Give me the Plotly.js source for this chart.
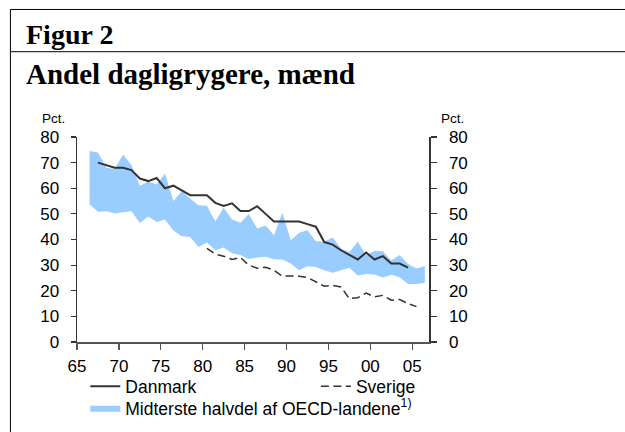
<!DOCTYPE html>
<html>
<head>
<meta charset="utf-8">
<script src="https://cdn.plot.ly/plotly-3.0.1.min.js"></script>
<style>html,body{margin:0;padding:0;background:#fff;}#chart{width:625px;height:432px;}</style>
</head>
<body>
<div id="chart"></div>
<script>
// Years for the OECD band (middle half of OECD countries)
const bandYears = [1966,1967,1968,1969,1970,1971,1972,1973,1974,1975,1976,1977,1978,1979,1980,1981,1982,1983,1984,1985,1986,1987,1988,1989,1990,1991,1992,1993,1994,1995,1996,1997,1998,1999,2000,2001,2002,2003,2004,2005,2006];
const bandUpper = [74.5,74,68,67.5,73.2,69,61,62.5,61.5,65.8,55,58.8,56,53.4,53.2,47,52.4,47.8,46.5,50,44.3,45.5,41.7,50.4,39.7,42.6,43.6,39.3,39.1,40.8,36.5,35,39.1,33.9,35.6,35.4,31.8,34,30.4,28.7,29.6];
const bandLower = [53.8,50.8,51,50.1,50.6,51,46.4,49,46.8,47.8,43.5,41.3,41,37.1,38.8,35.8,36.9,34.6,34,32.4,33,33.3,32.3,32.2,30.6,28,29.6,29.3,28,27,28,29,26,26.5,26.3,25.2,26.2,25.3,22.6,22.6,23.1];

// Danmark
const dkYears = [1967,1968,1969,1970,1971,1972,1973,1974,1975,1976,1977,1978,1979,1980,1981,1982,1983,1984,1985,1986,1987,1988,1989,1990,1991,1992,1993,1994,1995,1996,1997,1998,1999,2000,2001,2002,2003,2004];
const dkValues = [70,69,68,68,67.1,63.8,62.8,64,60,61,59.3,57.3,57.3,57.3,54.3,53.1,54.1,51.1,51.1,53,50,47,47,47,47,46,45,39,38,35.8,33.9,32.2,34.9,32.2,33.5,30.6,30.6,29];

// Sverige
const seYears = [1980,1981,1982,1983,1984,1985,1986,1987,1988,1989,1990,1991,1992,1993,1994,1995,1996,1997,1998,1999,2000,2001,2002,2003,2004,2005];
const seValues = [36.5,34.3,33.5,32.2,33,30,28.8,29.2,28,25.7,25.8,25.7,25.2,23.4,21.8,22.1,21.5,16.9,17.3,19.1,17.6,18.2,16.3,16.6,15,13.8];

// Tick labels
const xTickVals = [1965,1970,1975,1980,1985,1990,1995,2000,2005];
const xTickText = ["65","70","75","80","85","90","95","00","05"];
const yTickVals = [0,10,20,30,40,50,60,70,80];

const mid = y => y + 0.5; // annual values plotted mid-year

const fontSans = "Liberation Sans, Arial, sans-serif";
const fontSerif = "Liberation Serif, Times New Roman, serif";
const ink = "#333333";
const blue = "#99ccff";

const traces = [
  {x: bandYears.map(mid), y: bandLower, type: "scatter", mode: "lines",
   line: {width: 0, color: blue}, showlegend: false, hoverinfo: "skip"},
  {x: bandYears.map(mid), y: bandUpper, type: "scatter", mode: "lines",
   fill: "tonexty", fillcolor: blue, line: {width: 0, color: blue},
   name: "Midterste halvdel af OECD-landene<sup>1)</sup>", legend: "legend3"},
  {x: dkYears.map(mid), y: dkValues, type: "scatter", mode: "lines",
   line: {width: 2, color: ink}, name: "Danmark", legend: "legend"},
  {x: seYears.map(mid), y: seValues, type: "scatter", mode: "lines", yaxis: "y2",
   line: {width: 1.5, color: ink, dash: "8px,4.5px"}, name: "Sverige", legend: "legend2"}
];

const W = 352.6, H = 204.8, L = 76.7, B = 341.7;
const px = v => (v - L) / W;
const py = v => (B - v) / H;

const legFont = {family: fontSans, size: 17.5, color: "#000"};
const tickFont = {family: fontSans, size: 17, color: "#000"};

const layout = {
  width: 625, height: 432,
  margin: {l: 76.7, r: 195.7, t: 136.9, b: 90.3, autoexpand: false},
  paper_bgcolor: "#fff", plot_bgcolor: "#fff",
  font: {family: fontSans, size: 17, color: "#000"},
  showlegend: true,
  xaxis: {range: [1965, 2007], tickvals: xTickVals, ticktext: xTickText,
    showgrid: false, zeroline: false, showline: true, linecolor: "#555", linewidth: 1.5,
    ticks: "outside", ticklen: 6, tickcolor: "#555", tickwidth: 1.2, ticklabelstandoff: 2,
    tickfont: tickFont},
  yaxis: {range: [0, 80], tickvals: yTickVals, showgrid: false, zeroline: false,
    showline: true, linecolor: "#333", linewidth: 1.5,
    ticks: "outside", ticklen: 5, tickcolor: "#333", tickwidth: 1.2, ticklabelstandoff: 8,
    tickfont: tickFont},
  yaxis2: {range: [0, 80], tickvals: yTickVals, overlaying: "y", side: "right", anchor: "x",
    showgrid: false, zeroline: false, showline: true, linecolor: "#333", linewidth: 1.5,
    ticks: "outside", ticklen: 6, tickcolor: "#333", tickwidth: 1.2, ticklabelstandoff: 9,
    tickfont: tickFont},
  legend: {orientation: "h", x: px(85), xanchor: "left", y: py(386), yanchor: "middle",
    bgcolor: "rgba(0,0,0,0)", borderwidth: 0, font: legFont},
  legend2: {orientation: "h", x: px(316), xanchor: "left", y: py(386), yanchor: "middle",
    bgcolor: "rgba(0,0,0,0)", borderwidth: 0, font: legFont},
  legend3: {orientation: "h", x: px(85), xanchor: "left", y: py(407.5), yanchor: "middle",
    bgcolor: "rgba(0,0,0,0)", borderwidth: 0, font: legFont},
  shapes: [
    {type: "line", xref: "paper", yref: "paper", x0: px(10), x1: px(626), y0: py(9.5), y1: py(9.5), line: {color: "#000", width: 1}},
    {type: "line", xref: "paper", yref: "paper", x0: px(10), x1: px(626), y0: py(51.7), y1: py(51.7), line: {color: "#000", width: 1}},
    {type: "line", xref: "paper", yref: "paper", x0: px(10), x1: px(10), y0: py(9.5), y1: py(440), line: {color: "#000", width: 1}}
  ],
  annotations: [
    {text: "<b>Figur 2</b>", xref: "paper", yref: "paper", x: px(24), y: py(34.5), xanchor: "left", yanchor: "middle",
     showarrow: false, font: {family: fontSerif, size: 28, color: "#000"}},
    {text: "<b>Andel dagligrygere, mænd</b>", xref: "paper", yref: "paper", x: px(24), y: py(73.5), xanchor: "left", yanchor: "middle",
     showarrow: false, font: {family: fontSerif, size: 29, color: "#000"}},
    {text: "Pct.", xref: "paper", yref: "paper", x: px(53), y: py(118), xanchor: "center", yanchor: "middle",
     showarrow: false, font: {family: fontSans, size: 13.5, color: "#000"}},
    {text: "Pct.", xref: "paper", yref: "paper", x: px(453), y: py(118), xanchor: "center", yanchor: "middle",
     showarrow: false, font: {family: fontSans, size: 13.5, color: "#000"}}
  ]
};

Plotly.newPlot("chart", traces, layout, {staticPlot: true, displayModeBar: false});
</script>
</body>
</html>
